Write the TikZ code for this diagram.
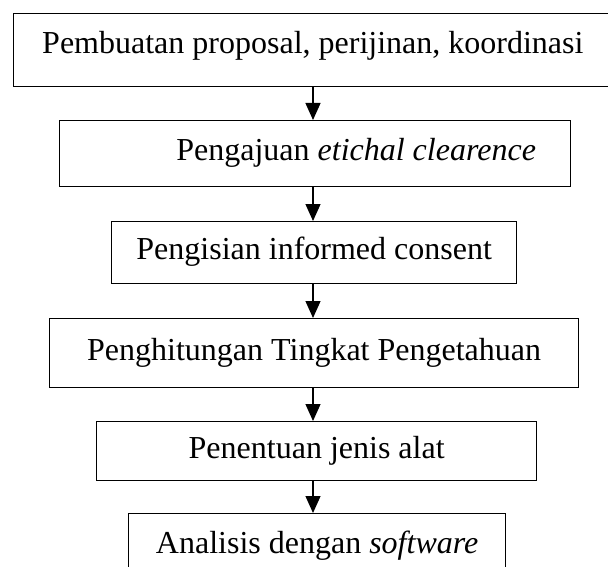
\documentclass[tikz,border=0pt]{standalone}
\usepackage{fontspec}
\setmainfont{Liberation Serif}
\usetikzlibrary{arrows.meta}
\begin{document}
\begin{tikzpicture}[x=1pt,y=-1pt,
        box/.style={draw, line width=1.3pt, inner sep=0pt, anchor=north west,
            text height=22pt, text depth=8pt, font=\fontsize{32}{38}\selectfont},
        flow/.style={line width=1.3pt, -{Triangle[width=15pt,length=17pt]}}]
        \useasboundingbox (0,0) rectangle (608,567);
        \coordinate (axis) at (313,0);
        \node [box, minimum width=599pt, minimum height=73pt, text depth=15pt] (proposal) at (12.7,12.7)
            {Pembuatan proposal, perijinan, koordinasi};
        \node [box, minimum width=511pt, minimum height=66pt] (etik) at (59,120)
            {\hspace*{82pt}Pengajuan \textit{etichal clearence}};
        \node [box, minimum width=405pt, minimum height=62pt] (consent) at (111,221)
            {Pengisian informed consent};
        \node [box, minimum width=529pt, minimum height=69pt] (tingkat) at (49,318)
            {Penghitungan Tingkat Pengetahuan};
        \node [box, minimum width=440pt, minimum height=59pt] (alat) at (96,421)
            {Penentuan jenis alat};
        \node [box, minimum width=377pt, minimum height=65pt] (software) at (128,513)
            {Analisis dengan \textit{software}};
        \foreach \a/\b in {proposal/etik, etik/consent, consent/tingkat, tingkat/alat, alat/software}
            \draw [flow] (\a.south -| axis) -- (\b.north -| axis);
    \end{tikzpicture}
\end{document}
